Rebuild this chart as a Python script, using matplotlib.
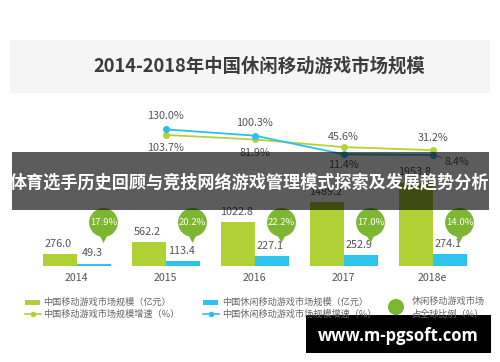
import numpy as np
import matplotlib
matplotlib.use("Agg")
import matplotlib.pyplot as plt
from matplotlib.patches import Rectangle, Circle, Polygon

plt.rcParams['font.family'] = ['Noto Sans CJK SC', 'DejaVu Sans']

# -----------------------------
# Data
# -----------------------------
years = ["2014", "2015", "2016", "2017", "2018e"]
mobile_size = [276.0, 562.2, 1022.8, 1489.2, 1953.8]        # 中国移动游戏市场规模（亿元）
casual_size = [49.3, 113.4, 227.1, 252.9, 274.1]            # 中国休闲移动游戏市场规模（亿元）
global_share = [17.9, 20.2, 22.2, 17.0, 14.0]               # 占全球比例（%）
mobile_growth = [103.7, 81.9, 45.6, 31.2]                   # 2015-2018e
casual_growth = [130.0, 100.3, 11.4, 8.4]                   # 2015-2018e

GREEN = "#afd135"
BLUE = "#2cc4ec"
BUBBLE = "#7db632"
LINE_GREEN = "#b3d237"
LINE_BLUE = "#2dbfe8"
TXT = "#555555"

W, H = 500, 362
fig = plt.figure(figsize=(W / 100, H / 100), dpi=100)
fig.patch.set_facecolor("white")

# background card / title band
bg = fig.add_axes([0, 0, 1, 1], zorder=-1)
bg.set_xlim(0, W)
bg.set_ylim(H, 0)
bg.axis("off")
bg.add_patch(Rectangle((10, 40), 480, 53, color="#f5f5f5", lw=0))
bg.text(259, 66, "2014-2018年中国休闲移动游戏市场规模", ha="center", va="center",
        fontsize=13.2, fontweight="bold", color="#3c3c3c")

# -----------------------------
# Bars
# -----------------------------
base_px, top_px = 266, 100
ax = fig.add_axes([10 / W, (H - base_px) / H, 480 / W, (base_px - top_px) / H])
ax.patch.set_alpha(0)
x = np.arange(len(years))
bw = 0.382
ax.set_xlim(-0.75, -0.75 + 480 / 89)
ax.set_ylim(0, (base_px - top_px) / 0.0427)
b1 = ax.bar(x - bw / 2, mobile_size, bw, color=GREEN, zorder=2)
b2 = ax.bar(x + bw / 2, casual_size, bw, color=BLUE, zorder=2)
for bars, vals in [(b1, mobile_size), (b2, casual_size)]:
    for r, v in zip(bars, vals):
        ax.annotate(f"{v:.1f}", (r.get_x() + r.get_width() / 2, v), xytext=(-1, 7.5),
                    textcoords="offset points", ha="center", va="center",
                    fontsize=7.8, color=TXT)
for s in ax.spines.values():
    s.set_visible(False)
ax.axhline(0, 0.046, 0.979, color="#cccccc", lw=0.8, zorder=1)
ax.set_yticks([])
ax.set_xticks(x, years)
ax.tick_params(axis="x", length=0, pad=5, labelsize=7.6, labelcolor=TXT)

# global share bubbles
bub_y = 1030
ax.scatter(x + 0.3, [bub_y - 357] * len(x), s=64, marker="v", color=BUBBLE, lw=0, zorder=3)
ax.scatter(x + 0.3, [bub_y] * len(x), s=430, marker="o", color=BUBBLE, lw=0, zorder=3)
for xi, v in zip(x, global_share):
    ax.text(xi + 0.3, bub_y, f"{v:.1f}%", ha="center", va="center", fontsize=6.8,
            color="white", zorder=4)

# -----------------------------
# Growth lines
# -----------------------------
ax2 = ax.twinx()
ax2.set_ylim(-520.5, 270)
ax2.axis("off")
xl = x[1:]
ax2.plot(xl, mobile_growth, color=LINE_GREEN, lw=1.3, marker="o", ms=4, zorder=3)
ax2.plot(xl, casual_growth, color=LINE_BLUE, lw=1.3, marker="o", ms=4, zorder=3)
green_off = [(0, -9.5), (0, -9.5), (0, 7.5), (0, 8.5)]
blue_off = [(0, 9.5), (0, 9), (0, -8), (8.5, -5)]
for xi, v, o in zip(xl, mobile_growth, green_off):
    ax2.annotate(f"{v:.1f}%", (xi, v), xytext=o, textcoords="offset points",
                 ha="center", va="center", fontsize=7.8, color=TXT)
for xi, v, o in zip(xl, casual_growth, blue_off):
    ax2.annotate(f"{v:.1f}%", (xi, v), xytext=o, textcoords="offset points",
                 ha="left" if o[0] else "center", va="center", fontsize=7.8, color=TXT,
                 arrowprops=dict(arrowstyle="-", color="#999999", lw=0.6,
                                 shrinkA=0, shrinkB=2) if o[0] else None)

# -----------------------------
# Legend + overlays
# -----------------------------
ov = fig.add_axes([0, 0, 1, 1], zorder=10)
ov.set_xlim(0, W)
ov.set_ylim(H, 0)
ov.axis("off")
ov.patch.set_alpha(0)
lfs = 6.6
LTXT = "#666666"
ov.add_patch(Rectangle((25, 300), 15, 5, color=GREEN, lw=0))
ov.text(43, 302.5, "中国移动游戏市场规模（亿元）", va="center", fontsize=lfs, color=LTXT)
ov.plot([25, 41], [314, 314], color=LINE_GREEN, lw=1.2)
ov.plot([33], [314], "o", color=LINE_GREEN, ms=3)
ov.text(43, 314, "中国移动游戏市场规模增速（%）", va="center", fontsize=lfs, color=LTXT)
ov.add_patch(Rectangle((203, 300), 15, 5, color=BLUE, lw=0))
ov.text(222, 302.5, "中国休闲移动游戏市场规模（亿元）", va="center", fontsize=lfs, color=LTXT)
ov.plot([203, 219], [314, 314], color=LINE_BLUE, lw=1.2)
ov.plot([211], [314], "o", color=LINE_BLUE, ms=3)
ov.text(222, 314, "中国休闲移动游戏市场规模增速（%）", va="center", fontsize=lfs, color=LTXT)
ov.add_patch(Circle((396, 307), 8, color=BUBBLE, lw=0))
ov.add_patch(Polygon([[393, 313], [399, 313], [396, 318]], color=BUBBLE, lw=0))
ov.text(412, 301, "休闲移动游戏市场", va="center", fontsize=lfs, color=LTXT)
ov.text(412, 314, "占全球比例（%）", va="center", fontsize=lfs, color=LTXT)

# banner
ov.add_patch(Rectangle((12, 152), 477, 58, color="black", alpha=0.64, lw=0))
ov.text(250, 182, "体育选手历史回顾与竞技网络游戏管理模式探索及发展趋势分析",
        ha="center", va="center", fontsize=12.3, fontweight="bold", color="white")

# watermark
ov.add_patch(Rectangle((306, 315), 185, 38, color="black", lw=0))
ov.text(398, 336, "www.m-pgsoft.com", ha="center", va="center", fontsize=12,
        fontweight="bold", color="white", family=["Open Sans", "DejaVu Sans"])

fig.savefig("out.png", dpi=100)
